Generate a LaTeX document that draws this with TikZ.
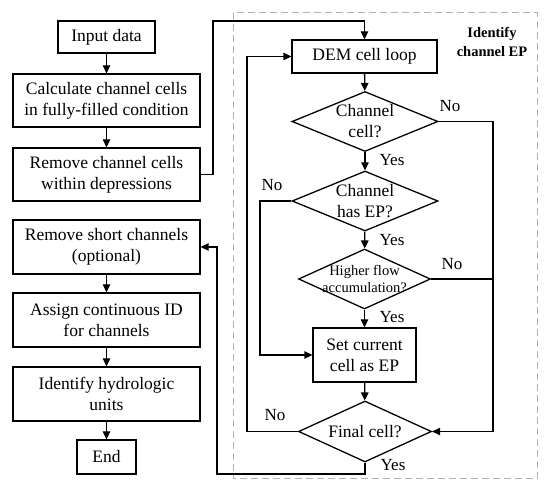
\documentclass[tikz,border=0pt]{standalone}
\usepackage{fontspec}
\setmainfont{Liberation Serif}
\usetikzlibrary{shapes.geometric,arrows.meta}

\begin{document}
\begin{tikzpicture}[x=1pt, y=-1pt]
        % Style definitions
        \tikzset{
            box/.style={draw, line width=1.3pt, align=center, inner sep=0pt,
                font=\fontsize{17.5}{21}\selectfont},
            decision/.style={diamond, draw, line width=1.3pt, align=center, inner sep=0pt,
                aspect=2.4, font=\fontsize{17.5}{21}\selectfont},
            flow/.style={line width=1.3pt, -{Triangle[length=8pt, width=7.5pt]}},
            link/.style={line width=1.3pt},
            answer/.style={font=\fontsize{17}{20}\selectfont, inner sep=0pt}
        }
        \useasboundingbox (0,0) rectangle (550,489);

        % ==========================================
        % IDENTIFY CHANNEL EP (dashed frame)
        % ==========================================
        \draw[gray!60, line width=1pt, dash pattern=on 7pt off 4pt] (233,13) rectangle (537,479);
        \node[font=\fontsize{14.5}{19}\selectfont\bfseries, align=center] (eptitle) at (492,42) {Identify\\channel EP};

        \node[box, minimum width=145pt, minimum height=33pt] (demloop) at (364.5,56.5) {DEM cell loop};
        \node[decision, minimum width=146pt, minimum height=60pt] (chcell) at (365,121.5) {Channel\\cell?};
        \node[decision, minimum width=146pt, minimum height=60pt] (chep) at (365,201) {Channel\\has EP?};
        \node[decision, minimum width=132pt, minimum height=60pt, aspect=2.2, inner sep=-9pt,
            font=\fontsize{14.5}{17}\selectfont] (higher) at (364.5,279) {Higher flow\\accumulation?};
        \node[box, minimum width=103pt, minimum height=54pt] (setep) at (364.5,355) {Set current\\cell as EP};
        \node[decision, minimum width=133pt, minimum height=61pt, aspect=2.18] (final) at (365,431.5) {Final cell?};

        % ==========================================
        % MAIN STEPS (left column)
        % ==========================================
        \node[box, minimum width=97pt, minimum height=32pt] (input) at (106.5,37) {Input data};
        \node[box, minimum width=187pt, minimum height=53pt] (calc) at (106.5,100.5) {Calculate channel cells\\in fully-filled condition};
        \node[box, minimum width=187pt, minimum height=53pt] (remdep) at (106.5,174.5) {Remove channel cells\\within depressions};
        \node[box, minimum width=187pt, minimum height=54pt] (remshort) at (106.5,247) {Remove short channels\\(optional)};
        \node[box, minimum width=187pt, minimum height=54pt] (assign) at (106.5,320) {Assign continuous ID\\for channels};
        \node[box, minimum width=187pt, minimum height=54pt] (hydro) at (106.5,394) {Identify hydrologic\\units};
        \node[box, minimum width=59pt, minimum height=34pt] (finish) at (106.5,457) {End};

        % Bend points
        \coordinate (topbend) at (213,21);
        \coordinate (nobend) at (493,121.5);
        \coordinate (epbend) at (260,201);
        \coordinate (loopbend) at (247,431.5);
        \coordinate (backbend) at (217,474);

        % Left column arrows
        \draw[flow] (input) -- (calc);
        \draw[flow] (calc) -- (remdep);
        \draw[flow] (remshort) -- (assign);
        \draw[flow] (assign) -- (hydro);
        \draw[flow] (hydro) -- (finish);
        \draw[flow] (remdep.east) -| (topbend) -| (demloop.north);

        % Loop arrows
        \draw[flow] (demloop) -- (chcell);
        \draw[flow] (chcell) -- (chep);
        \draw[flow] (chep) -- (higher);
        \draw[flow] (higher) -- (setep);
        \draw[flow] (setep) -- (final);
        \draw[flow] (chcell.east) -- (nobend) |- (final.east);
        \draw[link] (higher.east) -- (nobend |- higher.east);
        \draw[flow] (chep.west) -- (epbend) |- (setep.west);
        \draw[flow] (final.west) -- (loopbend) |- (demloop.west);
        \draw[flow] (final.south) |- (backbend) |- (remshort.east);

        % Answers
        \node[answer] (no1) at (450,106) {No};
        \node[answer] (yes1) at (392,160) {Yes};
        \node[answer] (no2) at (272,185) {No};
        \node[answer] (yes2) at (392,240) {Yes};
        \node[answer] (no3) at (452,264) {No};
        \node[answer] (yes3) at (392,317) {Yes};
        \node[answer] (no4) at (275,415) {No};
        \node[answer] (yes4) at (393,465) {Yes};
\end{tikzpicture}
\end{document}
